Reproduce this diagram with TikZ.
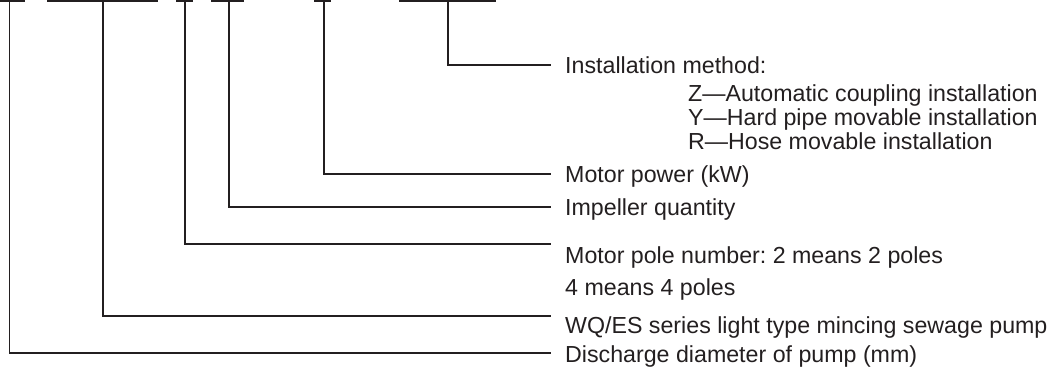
\documentclass[tikz,border=0pt]{standalone}
\usepackage{fontspec}
\setmainfont{Liberation Sans}
\definecolor{ink}{RGB}{35,31,32}
\frenchspacing
\begin{document}
\begin{tikzpicture}[x=1pt,y=-1pt,
  bar/.style={draw=ink,line width=1.1pt},
  conn/.style={draw=ink,line width=1.1pt},
  lbl/.style={anchor=base west,inner sep=0pt,text=ink,font=\fontsize{23.2}{28}\selectfont}]
\useasboundingbox (0,0) rectangle (1058,367);
% top bars (underlines of the cut-off model code)
\coordinate (b1l) at (0,1);   \coordinate (b1r) at (25,1);
\coordinate (b2l) at (47,1);  \coordinate (b2r) at (158,1);
\coordinate (b3l) at (176,1); \coordinate (b3r) at (193,1);
\coordinate (b4l) at (211,1); \coordinate (b4r) at (244,1);
\coordinate (b5l) at (314,1); \coordinate (b5r) at (331,1);
\coordinate (b6l) at (399,1); \coordinate (b6r) at (496,1);
\foreach \i in {1,...,6} \draw[bar] (b\i l) -- (b\i r);
% drop points on the bars
\coordinate (t1) at (9.7,1);
\coordinate (t2) at (103,1);
\coordinate (t3) at (185,1);
\coordinate (t4) at (229,1);
\coordinate (t5) at (324,1);
\coordinate (t6) at (448,1);
% line ends
\coordinate (e1) at (551,353);
\coordinate (e2) at (551,316);
\coordinate (e3) at (551,244);
\coordinate (e4) at (551,207);
\coordinate (e5) at (551,174);
\coordinate (e6) at (551,65);
% labels
\node[lbl] (inst) at (565,73) {Installation method:};
\node[lbl] (z) at (688,101) {Z—Automatic coupling installation};
\node[lbl] (y) at (688,125) {Y—Hard pipe movable installation};
\node[lbl] (r) at (688,149) {R—Hose movable installation};
\node[lbl] (pow) at (565,182) {Motor power (kW)};
\node[lbl] (imp) at (565,215) {Impeller quantity};
\node[lbl] (pole) at (565,263) {Motor pole number: 2 means 2 poles};
\node[lbl] (pole4) at (565,295) {4 means 4 poles};
\node[lbl] (ser) at (565,333) {WQ/ES series light type mincing sewage pump};
\node[lbl] (dia) at (565,362) {Discharge diameter of pump (mm)};
% connectors
\draw[conn] (t1) |- (e1);
\draw[conn] (t2) |- (e2);
\draw[conn] (t3) |- (e3);
\draw[conn] (t4) |- (e4);
\draw[conn] (t5) |- (e5);
\draw[conn] (t6) |- (e6);
\end{tikzpicture}
\end{document}
